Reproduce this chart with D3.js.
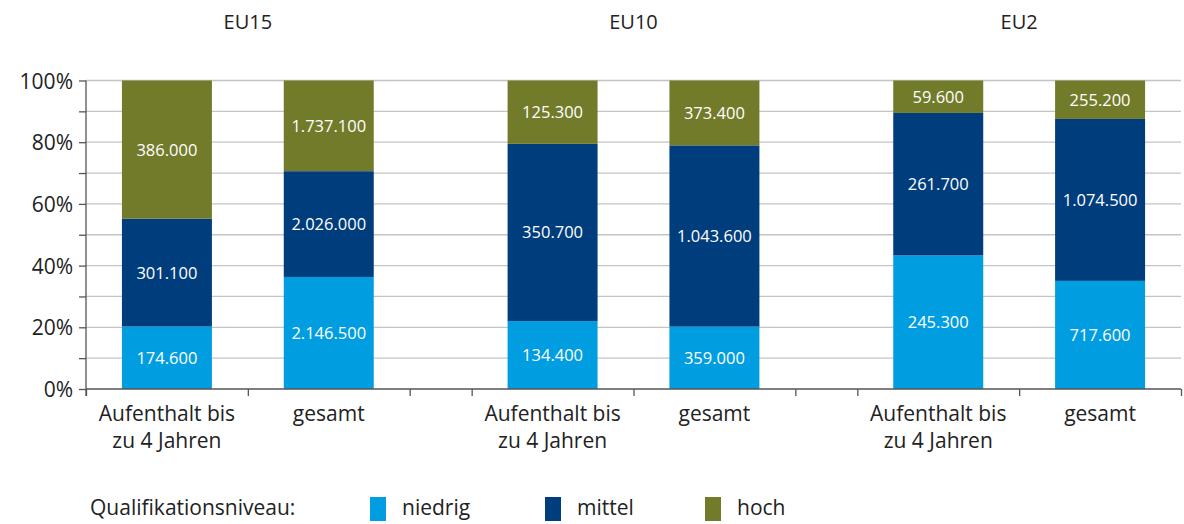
<!DOCTYPE html>
<html>
<head>
<meta charset="utf-8">
<title>Qualifikationsniveau EU15 / EU10 / EU2</title>
<script src="https://cdnjs.cloudflare.com/ajax/libs/d3/7.8.5/d3.min.js"></script>
<style>
  body { margin: 0; background: #fff; }
  svg text { font-family: "Open Sans", "DejaVu Sans", sans-serif; fill: #222; }
</style>
</head>
<body>
<svg id="chart" width="1184" height="524"></svg>
<script>
// data
var groups = ["EU15", "EU10", "EU2"];
var barNames = ["Aufenthalt bis|zu 4 Jahren", "gesamt"];
var levels = ["niedrig", "mittel", "hoch"];
var niedrig = [174600, 2146500, 134400, 359000, 245300, 717600];
var mittel  = [301100, 2026000, 350700, 1043600, 261700, 1074500];
var hoch    = [386000, 1737100, 125300, 373400, 59600, 255200];
var yTicks = [0, 0.2, 0.4, 0.6, 0.8, 1];

var colors = { niedrig: "#009ee0", mittel: "#003d7c", hoch: "#727b2a" };

// one row per bar
var rows = [];
groups.forEach(function (g, gi) {
  barNames.forEach(function (b, bi) {
    var i = gi * barNames.length + bi;
    rows.push({ group: g, name: b, niedrig: niedrig[i], mittel: mittel[i], hoch: hoch[i] });
  });
});

var svg = d3.select("#chart");
var mLeft = 86, mRight = 1181, mTop = 80.5, mBottom = 389;
var gapW = 0.383; // width of the empty slot between groups, in bar slots

// slot start positions in "slot units"
var slotStart = [], u = 0;
rows.forEach(function (r, i) {
  if (i > 0 && i % barNames.length === 0) u += gapW;
  slotStart.push(u);
  u += 1;
});
var x = d3.scaleLinear().domain([0, u]).range([mLeft, mRight]);
var y = d3.scaleLinear().domain([0, 1]).range([mBottom, mTop]);
var barW = 0.556;

// gridlines every 10%
var grid = d3.range(0, 11).map(function (d) { return d / 10; });
svg.append("g").selectAll("line").data(grid.slice(1)).enter().append("line")
  .attr("x1", mLeft).attr("x2", mRight)
  .attr("y1", function (d) { return y(d); }).attr("y2", function (d) { return y(d); })
  .attr("stroke", "#c4c4c4").attr("stroke-width", 1.3);

// stacked bars
var stack = d3.stack().keys(levels).offset(d3.stackOffsetExpand);
var series = stack(rows);

var layer = svg.append("g").selectAll("g").data(series).enter().append("g")
  .attr("fill", function (d) { return colors[d.key]; });

layer.selectAll("rect").data(function (d) { return d; }).enter().append("rect")
  .attr("x", function (d, i) { return x(slotStart[i] + (1 - barW) / 2); })
  .attr("width", function (d, i) { return x(slotStart[i] + barW) - x(slotStart[i]); })
  .attr("y", function (d) { return y(d[1]); })
  .attr("height", function (d) { return y(d[0]) - y(d[1]); });

var fmt = d3.formatLocale({ decimal: ",", thousands: ".", grouping: [3], currency: ["", "€"] }).format(",");

layer.selectAll("text").data(function (d) { return d.map(function (p) { return { p: p, key: d.key }; }); })
  .enter().append("text")
  .attr("x", function (d, i) { return x(slotStart[i] + 0.5); })
  .attr("y", function (d) { return (y(d.p[0]) + y(d.p[1])) / 2 + 6; })
  .attr("text-anchor", "middle")
  .style("fill", "#fff")
  .style("font-size", "16.5px")
  .text(function (d) { return fmt(d.p.data[d.key]); });

// axes
var yAxis = d3.axisLeft(y).tickValues(grid).tickSize(7).tickFormat(function (d) {
  return yTicks.some(function (t) { return Math.abs(t - d) < 1e-9; }) ? Math.round(d * 100) + "%" : "";
});
var ya = svg.append("g").attr("transform", "translate(" + mLeft + ",0)").call(yAxis);
ya.select(".domain").attr("stroke", "#555").attr("stroke-width", 1.3).attr("d", "M0," + mTop + "V" + (mBottom + 7));
ya.selectAll(".tick line").attr("stroke", "#555").attr("stroke-width", 1.3);
ya.selectAll(".tick text").attr("x", -13).attr("dy", "0.36em").style("font-size", "21px").style("fill", "#222")
  .style("font-family", "'Open Sans', sans-serif");

// x axis boundary ticks
var bounds = [];
slotStart.forEach(function (s) { bounds.push(s); bounds.push(s + 1); });
bounds = Array.from(new Set(bounds.map(function (b) { return +b.toFixed(4); })));
var xAxis = d3.axisBottom(x).tickValues(bounds).tickSize(7).tickFormat("");
var xa = svg.append("g").attr("transform", "translate(0," + mBottom + ")").call(xAxis);
xa.select(".domain").attr("stroke", "#555").attr("stroke-width", 1.3).attr("d", "M" + mLeft + ",0H" + mRight);
xa.selectAll(".tick line").attr("stroke", "#555").attr("stroke-width", 1.3);

// category labels
var cat = svg.append("g").selectAll("text").data(rows).enter().append("text")
  .attr("text-anchor", "middle")
  .attr("x", function (d, i) { return x(slotStart[i] + 0.5); })
  .attr("y", 421)
  .style("font-size", "21px");
cat.each(function (d) {
  var t = d3.select(this);
  d.name.split("|").forEach(function (line, k) {
    t.append("tspan").attr("x", t.attr("x")).attr("dy", k === 0 ? 0 : 27).text(line);
  });
});

// group titles
svg.append("g").selectAll("text").data(groups).enter().append("text")
  .attr("text-anchor", "middle")
  .attr("x", function (d, gi) { return x(slotStart[gi * barNames.length] + 1); })
  .attr("y", 29)
  .style("font-size", "20px")
  .text(function (d) { return d; });

// legend
var lg = svg.append("g");
lg.append("text").attr("x", 90).attr("y", 515).style("font-size", "21px").text("Qualifikationsniveau:");
var legX = [370, 545, 705];
levels.forEach(function (k, i) {
  lg.append("rect").attr("x", legX[i]).attr("y", 497).attr("width", 16).attr("height", 24).attr("fill", colors[k]);
  lg.append("text").attr("x", legX[i] + 32).attr("y", 515).style("font-size", "21px").text(k);
});
</script>
</body>
</html>
